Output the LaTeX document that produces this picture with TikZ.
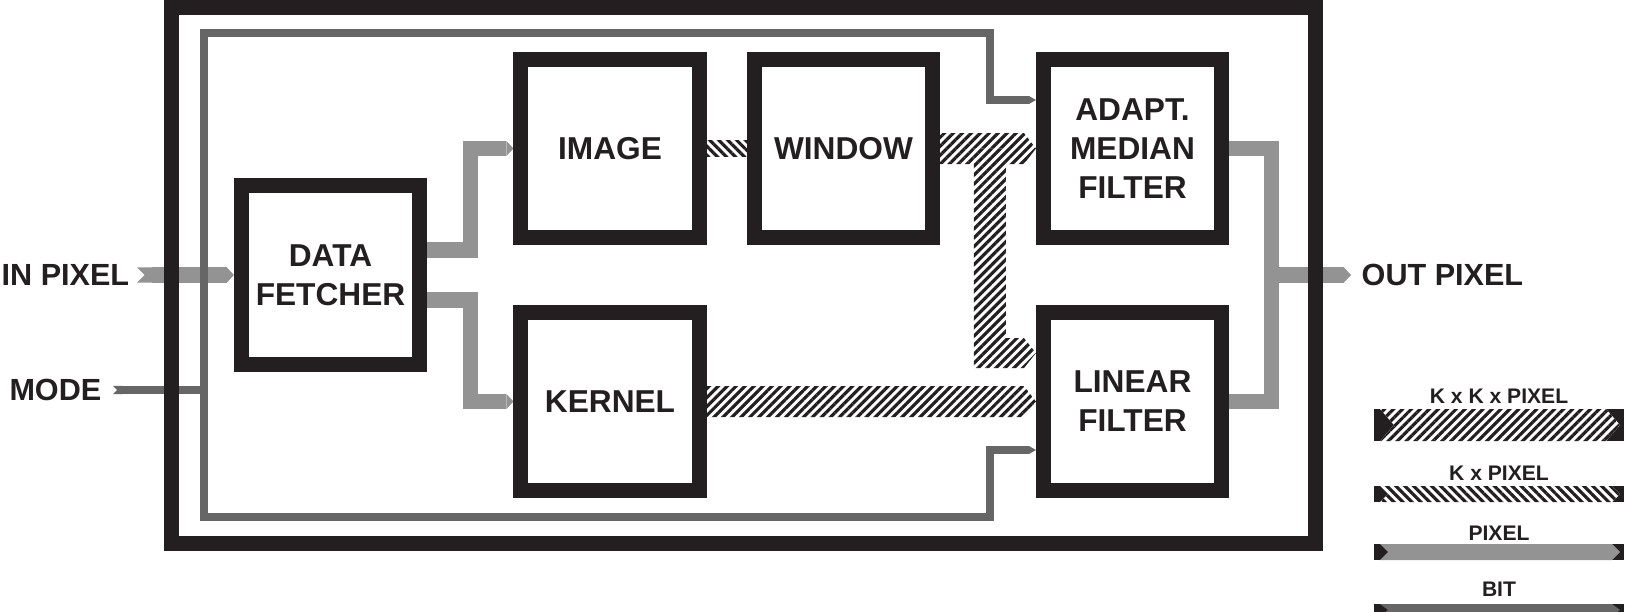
\documentclass[tikz,border=0pt]{standalone}
\usepackage{fontspec}
\setmainfont{Liberation Sans}
\usetikzlibrary{arrows.meta,calc,patterns.meta,backgrounds}
\definecolor{ink}{HTML}{231F20}
\definecolor{pixgray}{HTML}{939393}
\definecolor{bitgray}{HTML}{666666}
\tikzset{
  block/.style={draw=ink, line width=0.15cm, minimum size=1.78cm, inner sep=0pt, align=center,
    text=ink, font=\fontsize{9}{11.1}\selectfont\bfseries},
  iotext/.style={inner sep=0pt, text=ink, font=\fontsize{8.7}{10.5}\selectfont\bfseries},
  keytext/.style={inner sep=0pt, text=ink, font=\fontsize{6}{7}\selectfont\bfseries},
  pixtip/.tip={Triangle[length=0.07cm, width=0.15cm, line width=0pt]},
  bittip/.tip={Triangle[length=0.07cm, width=0.08cm, line width=0pt]},
  pixbus/.style={draw=pixgray, line width=0.15cm, -pixtip},
  bitbus/.style={draw=bitgray, line width=0.08cm},
  kkbus/.style={preaction={fill=white}, pattern={Lines[angle=45, distance=1.8pt, line width=0.9pt]}, pattern color=ink},
  kpbus/.style={preaction={fill=white}, pattern={Lines[angle=-45, distance=1.8pt, line width=0.9pt]}, pattern color=ink},
}
\begin{document}
\begin{tikzpicture}[x=0.01cm, y=-0.01cm]
\useasboundingbox (0,0) rectangle (1629,612);

\node[block] (df) at (330.5,275) {DATA\\FETCHER};
\node[block] (image) at (610,148.5) {IMAGE};
\node[block] (window) at (843.5,148.5) {WINDOW};
\node[block] (adapt) at (1132.5,148.5) {ADAPT.\\MEDIAN\\FILTER};
\node[block] (kernel) at (610,401.5) {KERNEL};
\node[block] (linear) at (1132.5,401.5) {LINEAR\\FILTER};
\node[draw=ink, line width=0.15cm, minimum width=11.44cm, minimum height=5.36cm] (core) at (743.5,275.5) {};

\node[iotext, anchor=west] (inpix) at (1,275) {IN PIXEL};
\node[iotext, anchor=east] (mode) at (102,390) {MODE};
\node[iotext, anchor=west] (outpix) at (1361,275) {OUT PIXEL};

\coordinate (bitnw) at (204,33);
\coordinate (bitsw) at (204,517);
\coordinate (tap) at (bitnw |- mode.east);

\begin{scope}[on background layer]
\path[kpbus] ($(image.east)+(0,-8)$) rectangle ($(window.west)+(0,8)$);
\path[kkbus] ($(window.east)+(0,-15.5)$) -- ($(adapt.west)+(-12,-15.5)$) -- (adapt.west)
  -- ($(adapt.west)+(-12,15.5)$) -- ($(window.east)+(0,15.5)$) -- cycle;
\path[kkbus] ($(adapt.west)+(-62,0)$) -- ($(adapt.west)+(-30,0)$) -- ($(linear.west)+(-30,-63.5)$)
  -- ($(linear.west)+(-12,-63.5)$) -- ($(linear.west)+(0,-48.5)$) -- ($(linear.west)+(-12,-33.5)$)
  -- ($(linear.west)+(-62,-33.5)$) -- cycle;
\path[kkbus] ($(kernel.east)+(0,-15.5)$) -- ($(linear.west)+(-12,-15.5)$) -- (linear.west)
  -- ($(linear.west)+(-12,15.5)$) -- ($(kernel.east)+(0,15.5)$) -- cycle;

\draw[pixbus, {Triangle Cap[reversed]}-pixtip] (137,275) -- (df.west);
\draw[pixbus] ($(df.east)+(0,-25)$) -- ++(43.5,0) |- (image.west);
\draw[pixbus] ($(df.east)+(0,25)$) -- ++(43.5,0) |- (kernel.west);
\draw[pixbus, -] (adapt.east) -- ++(42.5,0) |- (linear.east);
\draw[pixbus] ($(adapt.east)!0.5!(linear.east)+(42.5,0)$) -- ($(outpix.west)+(-10,0)$);

\draw[bitbus, bittip-bittip] ($(adapt.west)+(0,-48.5)$) -- ++(-46,0) |- (bitnw) -- (bitsw)
  -| ($(linear.west)+(-46,48.5)$) -- ($(linear.west)+(0,48.5)$);
\draw[bitbus, {Triangle Cap[reversed]}-] ($(mode.east)+(11,0)$) -- (tap);
\end{scope}

\node[keytext] (kkkey) at (1499,396) {K x K x PIXEL};
\fill[ink] (1374,409) rectangle (1624,441);
\path[kkbus] (1380,409) -- (1606,409) -- (1620,425) -- (1606,441) -- (1380,441) -- (1394,425) -- cycle;

\node[keytext] (kpkey) at (1499,473) {K x PIXEL};
\fill[ink] (1374,486) rectangle (1624,502);
\path[kpbus] (1380,486) -- (1612,486) -- (1620,494) -- (1612,502) -- (1380,502) -- (1388,494) -- cycle;

\node[keytext] (pixkey) at (1499,533) {PIXEL};
\fill[ink] (1374,544) rectangle (1624,560);
\fill[pixgray] (1380,544) -- (1612,544) -- (1620,552) -- (1612,560) -- (1380,560) -- (1388,552) -- cycle;

\node[keytext] (bitkey) at (1499,589) {BIT};
\fill[ink] (1374,604) rectangle (1624,616);
\fill[bitgray] (1380,604) -- (1612,604) -- (1620,610) -- (1612,616) -- (1380,616) -- (1388,610) -- cycle;
\end{tikzpicture}
\end{document}
